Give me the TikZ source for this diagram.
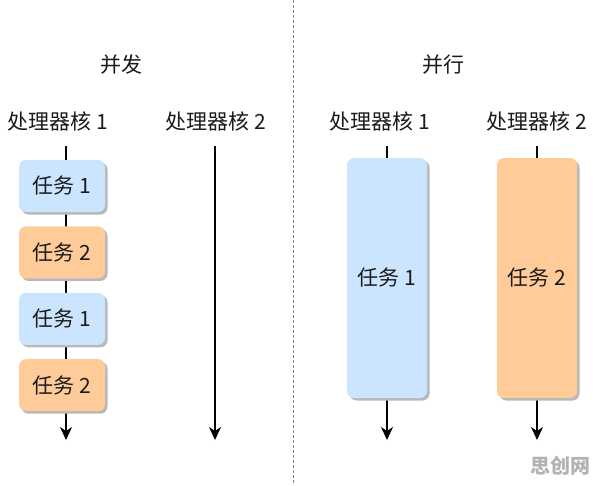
\documentclass[tikz,border=0pt]{standalone}
\usepackage{fontspec}
\setmainfont{Noto Sans CJK SC}
\usepackage{tikz}
\usetikzlibrary{positioning}
\usetikzlibrary{shadows}
\usetikzlibrary{arrows.meta}
\tikzset{>={Stealth[length=13pt, width=12pt, inset=4pt]}}
\definecolor{taskblue}{HTML}{CCE5FF}
\definecolor{taskorange}{HTML}{FFCC99}
\definecolor{inkgray}{HTML}{1A1A1A}
\tikzset{
    task/.style={rounded corners=7pt, inner sep=0pt, minimum width=86pt, minimum height=52pt,
        drop shadow={shadow xshift=2.5pt, shadow yshift=-2.5pt, fill=gray!55, opacity=1}},
    longtask/.style={task, minimum width=80pt, minimum height=240pt},
    timeline/.style={line width=1.2pt, ->},
}

\begin{document}
\begin{tikzpicture}[x=1pt, y=-1pt, font=\fontsize{21}{25}\selectfont, text=inkgray]
    \useasboundingbox (0, 0) rectangle (596, 485);
    \draw[gray, line width=1pt, dash pattern=on 3pt off 2pt](293, 0)--(293, 485);
    % titles
    \node (conc) at (121, 65) {并发};
    \node (para) at (443, 65) {并行};
    \node (lcore1) at (58, 121) {处理器核 1};
    \node (lcore2) at (216, 121) {处理器核 2};
    \node (rcore1) at (380, 121) {处理器核 1};
    \node (rcore2) at (537, 121) {处理器核 2};
    % time lines
    \coordinate (ls1) at (66, 146);
    \coordinate (le1) at (66, 440);
    \coordinate (ls2) at (215, 146);
    \coordinate (le2) at (215, 440);
    \coordinate (rs1) at (387, 146);
    \coordinate (re1) at (387, 440);
    \coordinate (rs2) at (537, 146);
    \coordinate (re2) at (537, 440);
    \draw[timeline](ls1)--(le1);
    \draw[timeline](ls2)--(le2);
    \draw[timeline](rs1)--(re1);
    \draw[timeline](rs2)--(re2);
    % tasks
    \node[task, fill=taskblue] (ltask1) at (62, 186) {任务 1};
    \node[task, fill=taskorange, below=14pt of ltask1] (ltask2) {任务 2};
    \node[task, fill=taskblue, below=14pt of ltask2] (ltask3) {任务 1};
    \node[task, fill=taskorange, below=14pt of ltask3] (ltask4) {任务 2};
    \node[longtask, fill=taskblue] (rtask1) at (387, 278) {任务 1};
    \node[longtask, fill=taskorange] (rtask2) at (537, 278) {任务 2};
    \node[gray!60, font=\fontsize{20}{22}\selectfont\bfseries] (mark) at (560, 466) {思创网};
\end{tikzpicture}
\end{document}
